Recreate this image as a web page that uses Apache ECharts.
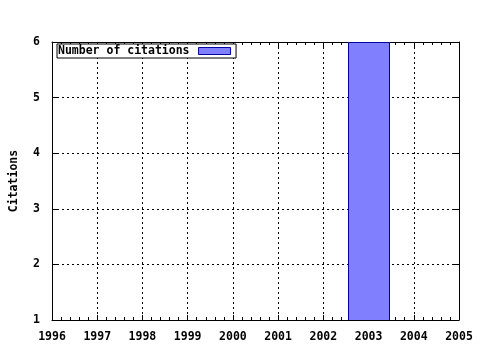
<!DOCTYPE html>
<html>
<head>
<meta charset="utf-8">
<script src="https://cdn.jsdelivr.net/npm/echarts@6/dist/echarts.min.js"></script>
<style>html,body{margin:0;padding:0;background:#fff;}#c{width:480px;height:350px;}</style>
</head>
<body>
<div id="c"></div>
<script>
var years = [2003];
var citations = [6];
var seriesName = 'Number of citations';
var yLabel = 'Citations';
var xMin = 1996, xMax = 2005, yMin = 1, yMax = 6;
var boxWidth = 0.9;

var FONT = '"DejaVu Sans Mono", monospace';
var chart = echarts.init(document.getElementById('c'), null, {renderer: 'canvas'});
var data = years.map(function (y, i) { return [y, citations[i]]; });

var axisCommon = {
  axisLine: {show: true, onZero: false, lineStyle: {color: '#000', width: 1}},
  axisTick: {show: true, inside: true, length: 5, lineStyle: {color: '#000'}},
  minorTick: {show: true, splitNumber: 5, length: 3, lineStyle: {color: '#000'}}
};

chart.setOption({
  animation: false,
  backgroundColor: '#fff',
  grid: {left: 51, right: 21, top: 42, bottom: 30, show: false},
  legend: {
    show: true,
    left: 57, top: 44,
    align: 'right',
    orient: 'horizontal',
    padding: [1, 5, 1, 1],
    borderColor: '#000', borderWidth: 1,
    backgroundColor: '#fff',
    itemWidth: 32, itemHeight: 7,
    icon: 'rect',
    textStyle: {fontFamily: FONT, fontWeight: 'bold', fontSize: 11.5, color: '#000', lineHeight: 11, padding: [0, 4, 0, 0]},
    data: [{name: seriesName, itemStyle: {color: '#8080ff', borderColor: '#0000a0', borderWidth: 1}}]
  },
  xAxis: [
    Object.assign({
      type: 'value', min: xMin, max: xMax, interval: 1, position: 'bottom',
      axisLabel: {color: '#000', fontFamily: FONT, fontWeight: 'bold', fontSize: 11.5, margin: 11, formatter: function (v) { return String(v); }},
      splitLine: {show: true, lineStyle: {color: '#000', type: [2, 3], width: 1}}
    }, axisCommon),
    Object.assign({
      type: 'value', min: xMin, max: xMax, interval: 1, position: 'top',
      axisLabel: {show: false}, splitLine: {show: false}
    }, axisCommon)
  ],
  yAxis: [
    {
      type: 'value', min: yMin, max: yMax, interval: 1, position: 'left',
      name: yLabel, nameLocation: 'middle', nameGap: 32, nameRotate: 90,
      nameTextStyle: {color: '#000', fontFamily: FONT, fontWeight: 'bold', fontSize: 11.5},
      axisLine: {show: true, onZero: false, lineStyle: {color: '#000'}},
      axisTick: {show: true, inside: true, length: 5, lineStyle: {color: '#000'}},
      axisLabel: {color: '#000', fontFamily: FONT, fontWeight: 'bold', fontSize: 11.5, margin: 12},
      splitLine: {show: true, lineStyle: {color: '#000', type: [2, 3], width: 1}}
    },
    {
      type: 'value', min: yMin, max: yMax, interval: 1, position: 'right',
      axisLine: {show: true, onZero: false, lineStyle: {color: '#000'}},
      axisTick: {show: true, inside: true, length: 5, lineStyle: {color: '#000'}},
      axisLabel: {show: false}, splitLine: {show: false}
    }
  ],
  series: [{
    name: seriesName,
    type: 'custom',
    xAxisIndex: 0, yAxisIndex: 0,
    clip: true,
    itemStyle: {color: '#8080ff', borderColor: '#0000a0', borderWidth: 1},
    renderItem: function (params, api) {
      var x = api.value(0), v = api.value(1);
      var p0 = api.coord([x - boxWidth / 2, v]);
      var p1 = api.coord([x + boxWidth / 2, yMin]);
      return {
        type: 'rect',
        shape: {x: Math.round(p0[0]) + 0.5, y: p0[1] + 0.5, width: Math.round(p1[0] - p0[0]), height: p1[1] - p0[1]},
        style: {fill: '#8080ff', stroke: '#0000a0', lineWidth: 1}
      };
    },
    data: data,
    z: 1
  }]
});
</script>
</body>
</html>
